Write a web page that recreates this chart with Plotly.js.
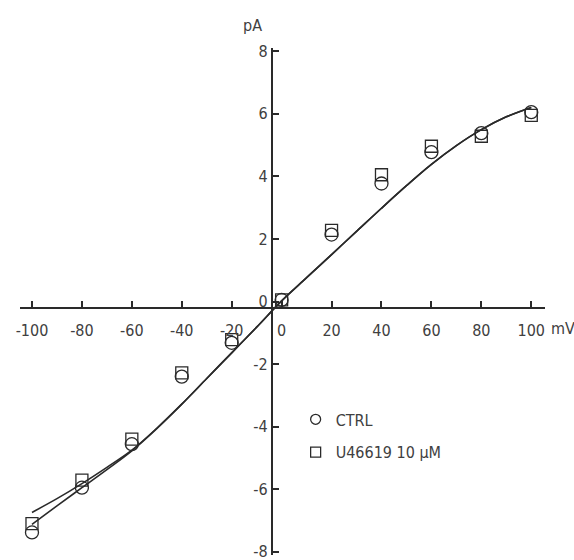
<!DOCTYPE html>
<html>
<head>
<meta charset="utf-8">
<script src="https://cdn.plot.ly/plotly-3.0.1.min.js"></script>
<style>html,body{margin:0;padding:0;background:#fff;}#chart{width:574px;height:560px;}</style>
</head>
<body>
<div id="chart"></div>
<script>
// Measured data points (mV vs pA)
var voltages = [-100, -80, -60, -40, -20, 0, 20, 40, 60, 80, 100];
var ctrlCurrent = [-7.38, -5.95, -4.56, -2.40, -1.32, 0.05, 2.14, 3.77, 4.77, 5.38, 6.05];
var u466Current = [-7.10, -5.71, -4.40, -2.28, -1.22, 0.05, 2.27, 4.05, 4.96, 5.28, 5.95];

// Fitted curves
var fitVoltages = [-100, -90, -80, -70, -60, -50, -40, -30, -20, -10, 0, 10, 20, 30, 40, 50, 60, 70, 80, 90, 100];
var fitA = [-6.74, -6.30, -5.82, -5.30, -4.75, -4.05, -3.28, -2.46, -1.64, -0.82, 0.02, 0.76, 1.50, 2.24, 2.98, 3.70, 4.38, 4.98, 5.49, 5.90, 6.20];
var fitB = [-7.12, -6.53, -5.95, -5.37, -4.77, -4.06, -3.28, -2.46, -1.64, -0.82, 0.02, 0.76, 1.50, 2.24, 2.98, 3.70, 4.38, 4.98, 5.49, 5.90, 6.20];

// Tick labels
var xTickVals = [-100, -80, -60, -40, -20, 0, 20, 40, 60, 80, 100];
var xTickText = ['-100', '-80', '-60', '-40', '-20', '0', '20', '40', '60', '80', '100'];
var yTickVals = [-8, -6, -4, -2, 0, 2, 4, 6, 8];
var yTickText = ['-8', '-6', '-4', '-2', '0', '2', '4', '6', '8'];

var legendNames = ['CTRL', 'U46619 10 \u00b5M'];

var FONT = '"Liberation Sans Narrow", "DejaVu Sans Condensed", "Liberation Sans", sans-serif';
var FS = 16;
var TXT = '#404040';
var INK = '#2a2a2a';

var xRange = [-104.8, 105.5];
var yRange = [-8.1, 8.1];
var xCross = -3.9;   // where the vertical axis is drawn (mV)
var yCross = -0.22;  // where the horizontal axis is drawn (pA)

var traces = [
  {x: fitVoltages, y: fitA, mode: 'lines', line: {color: INK, width: 1.6, shape: 'spline'}, showlegend: false, hoverinfo: 'skip'},
  {x: fitVoltages, y: fitB, mode: 'lines', line: {color: INK, width: 1.6, shape: 'spline'}, showlegend: false, hoverinfo: 'skip'},
  {x: voltages, y: u466Current, mode: 'markers', showlegend: false,
   marker: {symbol: 'square-open', size: 12, color: INK, line: {width: 1.3}}},
  {x: voltages, y: ctrlCurrent, mode: 'markers', showlegend: false,
   marker: {symbol: 'circle-open', size: 13, color: INK, line: {width: 1.3}}},
  {x: [null], y: [null], mode: 'markers', name: legendNames[0], legendgroup: 'a',
   marker: {symbol: 'circle-open', size: 10, color: INK, line: {width: 1.3}}},
  {x: [null], y: [null], mode: 'markers', name: legendNames[1], legendgroup: 'b',
   marker: {symbol: 'square-open', size: 10, color: INK, line: {width: 1.3}}}
];

var layout = {
  width: 574, height: 560,
  margin: {l: 20, r: 29, t: 48, b: 4.5},
  paper_bgcolor: '#fff', plot_bgcolor: '#fff',
  font: {family: FONT, size: FS, color: TXT},
  xaxis: {
    range: xRange, anchor: 'free',
    position: (yCross - yRange[0]) / (yRange[1] - yRange[0]),
    showgrid: false, zeroline: false,
    showline: true, linecolor: INK, linewidth: 2,
    ticks: 'inside', ticklen: 6, tickwidth: 2, tickcolor: INK,
    tickmode: 'array', tickvals: xTickVals, ticktext: xTickText,
    ticklabelstandoff: 7, ticklabeloverflow: 'allow',
    tickfont: {family: FONT, size: FS, color: TXT}
  },
  yaxis: {
    range: yRange, anchor: 'free',
    position: (xCross - xRange[0]) / (xRange[1] - xRange[0]),
    showgrid: false, zeroline: false,
    showline: true, linecolor: INK, linewidth: 2,
    ticks: 'inside', ticklen: 6, tickwidth: 2, tickcolor: INK,
    tickmode: 'array', tickvals: yTickVals, ticktext: yTickText,
    ticklabelstandoff: 0, ticklabeloverflow: 'allow',
    tickfont: {family: FONT, size: FS, color: TXT}
  },
  showlegend: true,
  legend: {
    x: 0.525, y: 0.301, xanchor: 'left', yanchor: 'top',
    bgcolor: 'rgba(0,0,0,0)', borderwidth: 0,
    traceorder: 'grouped', tracegroupgap: 9,
    font: {family: FONT, size: FS, color: TXT}
  },
  annotations: [
    {text: 'pA', xref: 'paper', yref: 'paper', x: 0.465, y: 1.045, xanchor: 'right', yanchor: 'middle', showarrow: false,
     font: {family: FONT, size: FS, color: TXT}},
    {text: 'mV', xref: 'paper', yref: 'paper', x: 1.034, y: 0.446, xanchor: 'center', yanchor: 'middle', showarrow: false,
     font: {family: FONT, size: FS, color: TXT}}
  ]
};

Plotly.newPlot('chart', traces, layout, {displayModeBar: false, staticPlot: true});
</script>
</body>
</html>
